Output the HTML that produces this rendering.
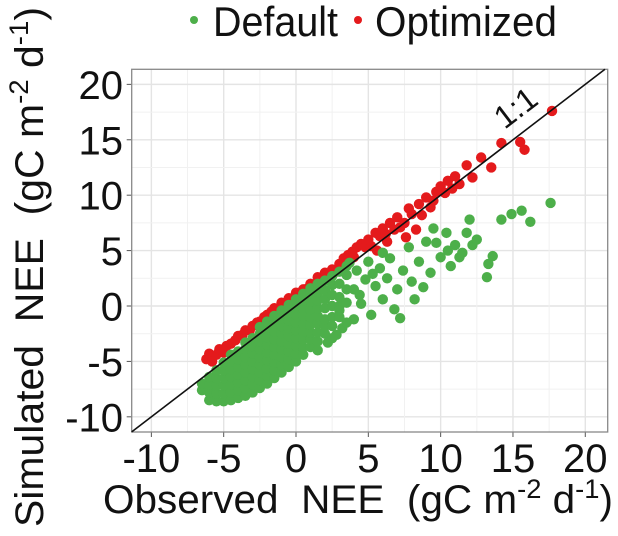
<!DOCTYPE html>
<html><head><meta charset="utf-8"><style>
html,body{margin:0;padding:0;background:#fff;}
svg{display:block;font-family:"Liberation Sans",sans-serif;}
</style></head><body>
<svg id="chart" width="618" height="536" viewBox="0 0 618 536">
<g id="legend">
  <circle cx="194" cy="20" r="4" fill="#4daf4a"/>
  <text x="213" y="36" font-size="42" fill="#111" textLength="125" lengthAdjust="spacingAndGlyphs">Default</text>
  <circle cx="358" cy="20" r="4" fill="#e41a1c"/>
  <text x="375" y="36" font-size="42" fill="#111" textLength="182" lengthAdjust="spacingAndGlyphs">Optimized</text>
</g>
<g id="grid"></g>
<g id="axes"></g>
<g id="points"></g>
<text x="0" y="0" font-size="40" fill="#111" textLength="520" lengthAdjust="spacingAndGlyphs" transform="translate(43,527) rotate(-90)">Simulated&#160;&#160;NEE&#160;&#160;(gC&#160;m<tspan dy="-15" font-size="27">-2</tspan><tspan dy="15">&#160;d</tspan><tspan dy="-15" font-size="27">-1</tspan><tspan dy="15">)</tspan></text>
<text x="103" y="513" font-size="40" fill="#111" textLength="510" lengthAdjust="spacingAndGlyphs">Observed&#160;&#160;NEE&#160;&#160;(gC&#160;m<tspan dy="-15" font-size="27">-2</tspan><tspan dy="15">&#160;d</tspan><tspan dy="-15" font-size="27">-1</tspan><tspan dy="15">)</tspan></text>
</svg>
<script>
const xTicks = [-10,-5,0,5,10,15,20];
const yTicks = [-10,-5,0,5,10,15,20];
const redObs = [-6.2,-6,-5.8,-5.5,-5.3,-5,-4.8,-4.5,-4.2,-4,-3.7,-3.5,-3.2,-3,-2.7,-2.5,-2.2,-2,-1.7,-1.5,-1,-0.5,0,0.5,1,1.5,2,2.5,3,3.3,3.6,3.9,4.2,4.0,4.5,4.8,5,5.2,5.5,5.8,6,6.2,6.5,6.8,7,7.2,7.5,7.6,7.8,8,8.3,8.5,9,9.3,9.7,10,10.3,10.5,10.8,11,11.3,11.8,12.2,12.8,13.5,14.2,15.5,15.8,17.7,8.7,9.5,6.3,5.6,2.8,1.8,0.8];
const redSim = [-4.8,-4.3,-5,-4.4,-3.9,-4.2,-3.6,-3.4,-3.1,-2.7,-2.6,-2.2,-2.2,-1.8,-1.5,-1.4,-1.0,-0.8,-0.5,-0.2,0.3,0.7,1.2,1.5,2,2.6,3,3.3,3.8,4.3,4.6,4.9,5.3,4.4,5.6,5.3,6,5.4,6.6,6.3,7,6.5,7.5,6.9,8,7.1,7.5,6.2,8.8,8.3,6.9,9.2,9.8,8.9,10.3,10.8,10.2,11.3,10.6,11.7,11.0,12.7,11.6,13.4,12.5,14.7,14.8,14.1,17.6,8.2,9.5,5.8,5.0,3.1,2.4,1.6];
const greenColObs = [-6.5,-6,-5.5,-5,-4.5,-4,-3.5,-3,-2.5,-2,-1.5,-1,-0.5,0,0.5,1,1.5,2,2.5,3,3.5];
const greenColSim = [
 [-7.6,-7.0],
 [-8.5,-7.8,-7.1,-6.4],
 [-8.6,-7.9,-7.2,-6.5,-5.8],
 [-8.6,-7.9,-7.2,-6.5,-5.8,-5.1],
 [-8.5,-7.8,-7.1,-6.4,-5.7,-5.0,-4.4],
 [-8.3,-7.6,-6.9,-6.2,-5.5,-4.8,-4.1],
 [-8.1,-7.4,-6.7,-6.0,-5.3,-4.6,-3.9,-3.3],
 [-7.8,-7.1,-6.4,-5.7,-5.0,-4.3,-3.6,-2.9],
 [-7.4,-6.7,-6.0,-5.3,-4.6,-3.9,-3.2,-2.5,-1.9],
 [-7.0,-6.3,-5.6,-4.9,-4.2,-3.5,-2.8,-2.1,-1.4],
 [-6.5,-5.8,-5.1,-4.4,-3.7,-3.0,-2.3,-1.6,-0.9],
 [-6.0,-5.3,-4.6,-3.9,-3.2,-2.5,-1.8,-1.1,-0.4],
 [-5.5,-4.8,-4.1,-3.4,-2.7,-2.0,-1.3,-0.6,0.1],
 [-5.0,-4.3,-3.6,-2.9,-2.2,-1.5,-0.8,-0.1,0.6],
 [-4.4,-3.7,-3.0,-2.3,-1.6,-0.9,-0.2,0.5,1.1],
 [-3.7,-3.0,-2.4,-1.7,-1.0,-0.3,0.4,1.1,1.6],
 [-3.2,-2.4,-1.6,-0.9,-0.2,0.5,1.2,2.0],
 [-2.5,-1.8,-1.2,-0.2,0.6,1.4,2.3],
 [-1.8,-1.0,0.0,1.0,1.9,2.7],
 [-1.0,0.0,0.8,2.0,3.1],
 [0.3,1.5,2.8,3.6]
];
const greenSpreadObs = [4,4.2,4.5,4.8,5,5.2,5.5,5.8,6,6.3,6.5,6.8,7,7.2,7.4,7.8,8,8.2,8.5,8.8,9,9.3,9.7,10,10.4,10.7,11,11.3,11.8,12.2,12.5,13.2,13.3,13.6,14.2,14.9,15.6,16.2,17.6,3.2,2.2,1.5,4,3,2.8,6,9.5,12,11.5,10.5,3.7,4.4,5.3,2.5,3.5];
const greenSpreadSim = [1.5,3.2,0.2,2.4,4,-0.8,1.8,3.4,0.6,2.5,4.3,-0.3,1.5,-1.1,3.2,5.3,2.2,0.6,4,1.7,5.8,3,5.7,4.4,6.6,3.6,5.5,4.4,6.6,5.5,6,2.6,3.8,4.5,7.8,8.3,8.6,7.6,9.3,-2,-3.3,-4,-1.2,-0.4,-2.6,4.8,7,7.8,4.8,5,3.9,1.0,2.9,-2.9,-1.5];

const NS = "http://www.w3.org/2000/svg";
const L = 131.7, R = 607.7, T = 69.3, B = 432;
const xmin = -11.36, xmax = 21.55, ymin = -11.37, ymax = 21.36;
function sx(v){ return L + (v - xmin) / (xmax - xmin) * (R - L); }
function sy(v){ return B - (v - ymin) / (ymax - ymin) * (B - T); }
function mk(tag, attrs, parent){ const e = document.createElementNS(NS, tag); for (const k in attrs) e.setAttribute(k, attrs[k]); parent.appendChild(e); return e; }

const grid = document.getElementById('grid');
const axes = document.getElementById('axes');
const pts = document.getElementById('points');
mk('rect', {x:L, y:T, width:R-L, height:B-T, fill:'#fff'}, grid);
for (let v = -10; v <= 20; v += 2.5) {
  const major = Number.isInteger(v / 5);
  const c = major ? '#e4e4e4' : '#f1f1f1';
  const gx = mk('line', {x1:sx(v), x2:sx(v), y1:T, y2:B, stroke:c, 'stroke-width':major?1.4:1}, grid);
  
  
  const gy = mk('line', {x1:L, x2:R, y1:sy(v), y2:sy(v), stroke:c, 'stroke-width':major?1.4:1}, grid);
  
  
}
xTicks.forEach(v => {
  mk('line', {x1:sx(v), x2:sx(v), y1:B, y2:B+5, stroke:'#555', 'stroke-width':1}, axes);
  const t = mk('text', {x:sx(v), y:472, 'font-size':40, 'text-anchor':'middle', fill:'#111'}, axes);
  t.textContent = v;
  
  
});
yTicks.forEach(v => {
  mk('line', {x1:L-5, x2:L, y1:sy(v), y2:sy(v), stroke:'#555', 'stroke-width':1}, axes);
  const t = mk('text', {x:123, y:sy(v)+14.5, 'font-size':40, 'text-anchor':'end', fill:'#111'}, axes);
  t.textContent = v;
  
  
});

function dot(x, y, color, name){
  const c = mk('circle', {cx:sx(x), cy:sy(y), r:5.2, fill:color}, pts);
  
  
}
redObs.forEach((x, i) => dot(x, redSim[i], '#e41a1c', 'optimized-point'));
greenColObs.forEach((x, i) => greenColSim[i].forEach(y => dot(x, y, '#4daf4a', 'default-point')));
greenSpreadObs.forEach((x, i) => dot(x, greenSpreadSim[i], '#4daf4a', 'default-point'));

const one = mk('line', {x1:sx(xmin), y1:sy(xmin), x2:sx(ymax), y2:sy(ymax), stroke:'#111', 'stroke-width':1.6}, pts);


const lbl = mk('text', {x:0, y:0, 'font-size':32, fill:'#111', 'text-anchor':'middle', transform:'translate('+(sx(16.2)-8)+','+(sy(16.2)-10)+') rotate(-37.5)'}, pts);
lbl.textContent = '1:1';


mk('rect', {x:L, y:T, width:R-L, height:B-T, fill:'none', stroke:'#888', 'stroke-width':1.3}, axes);
</script>
</body></html>
